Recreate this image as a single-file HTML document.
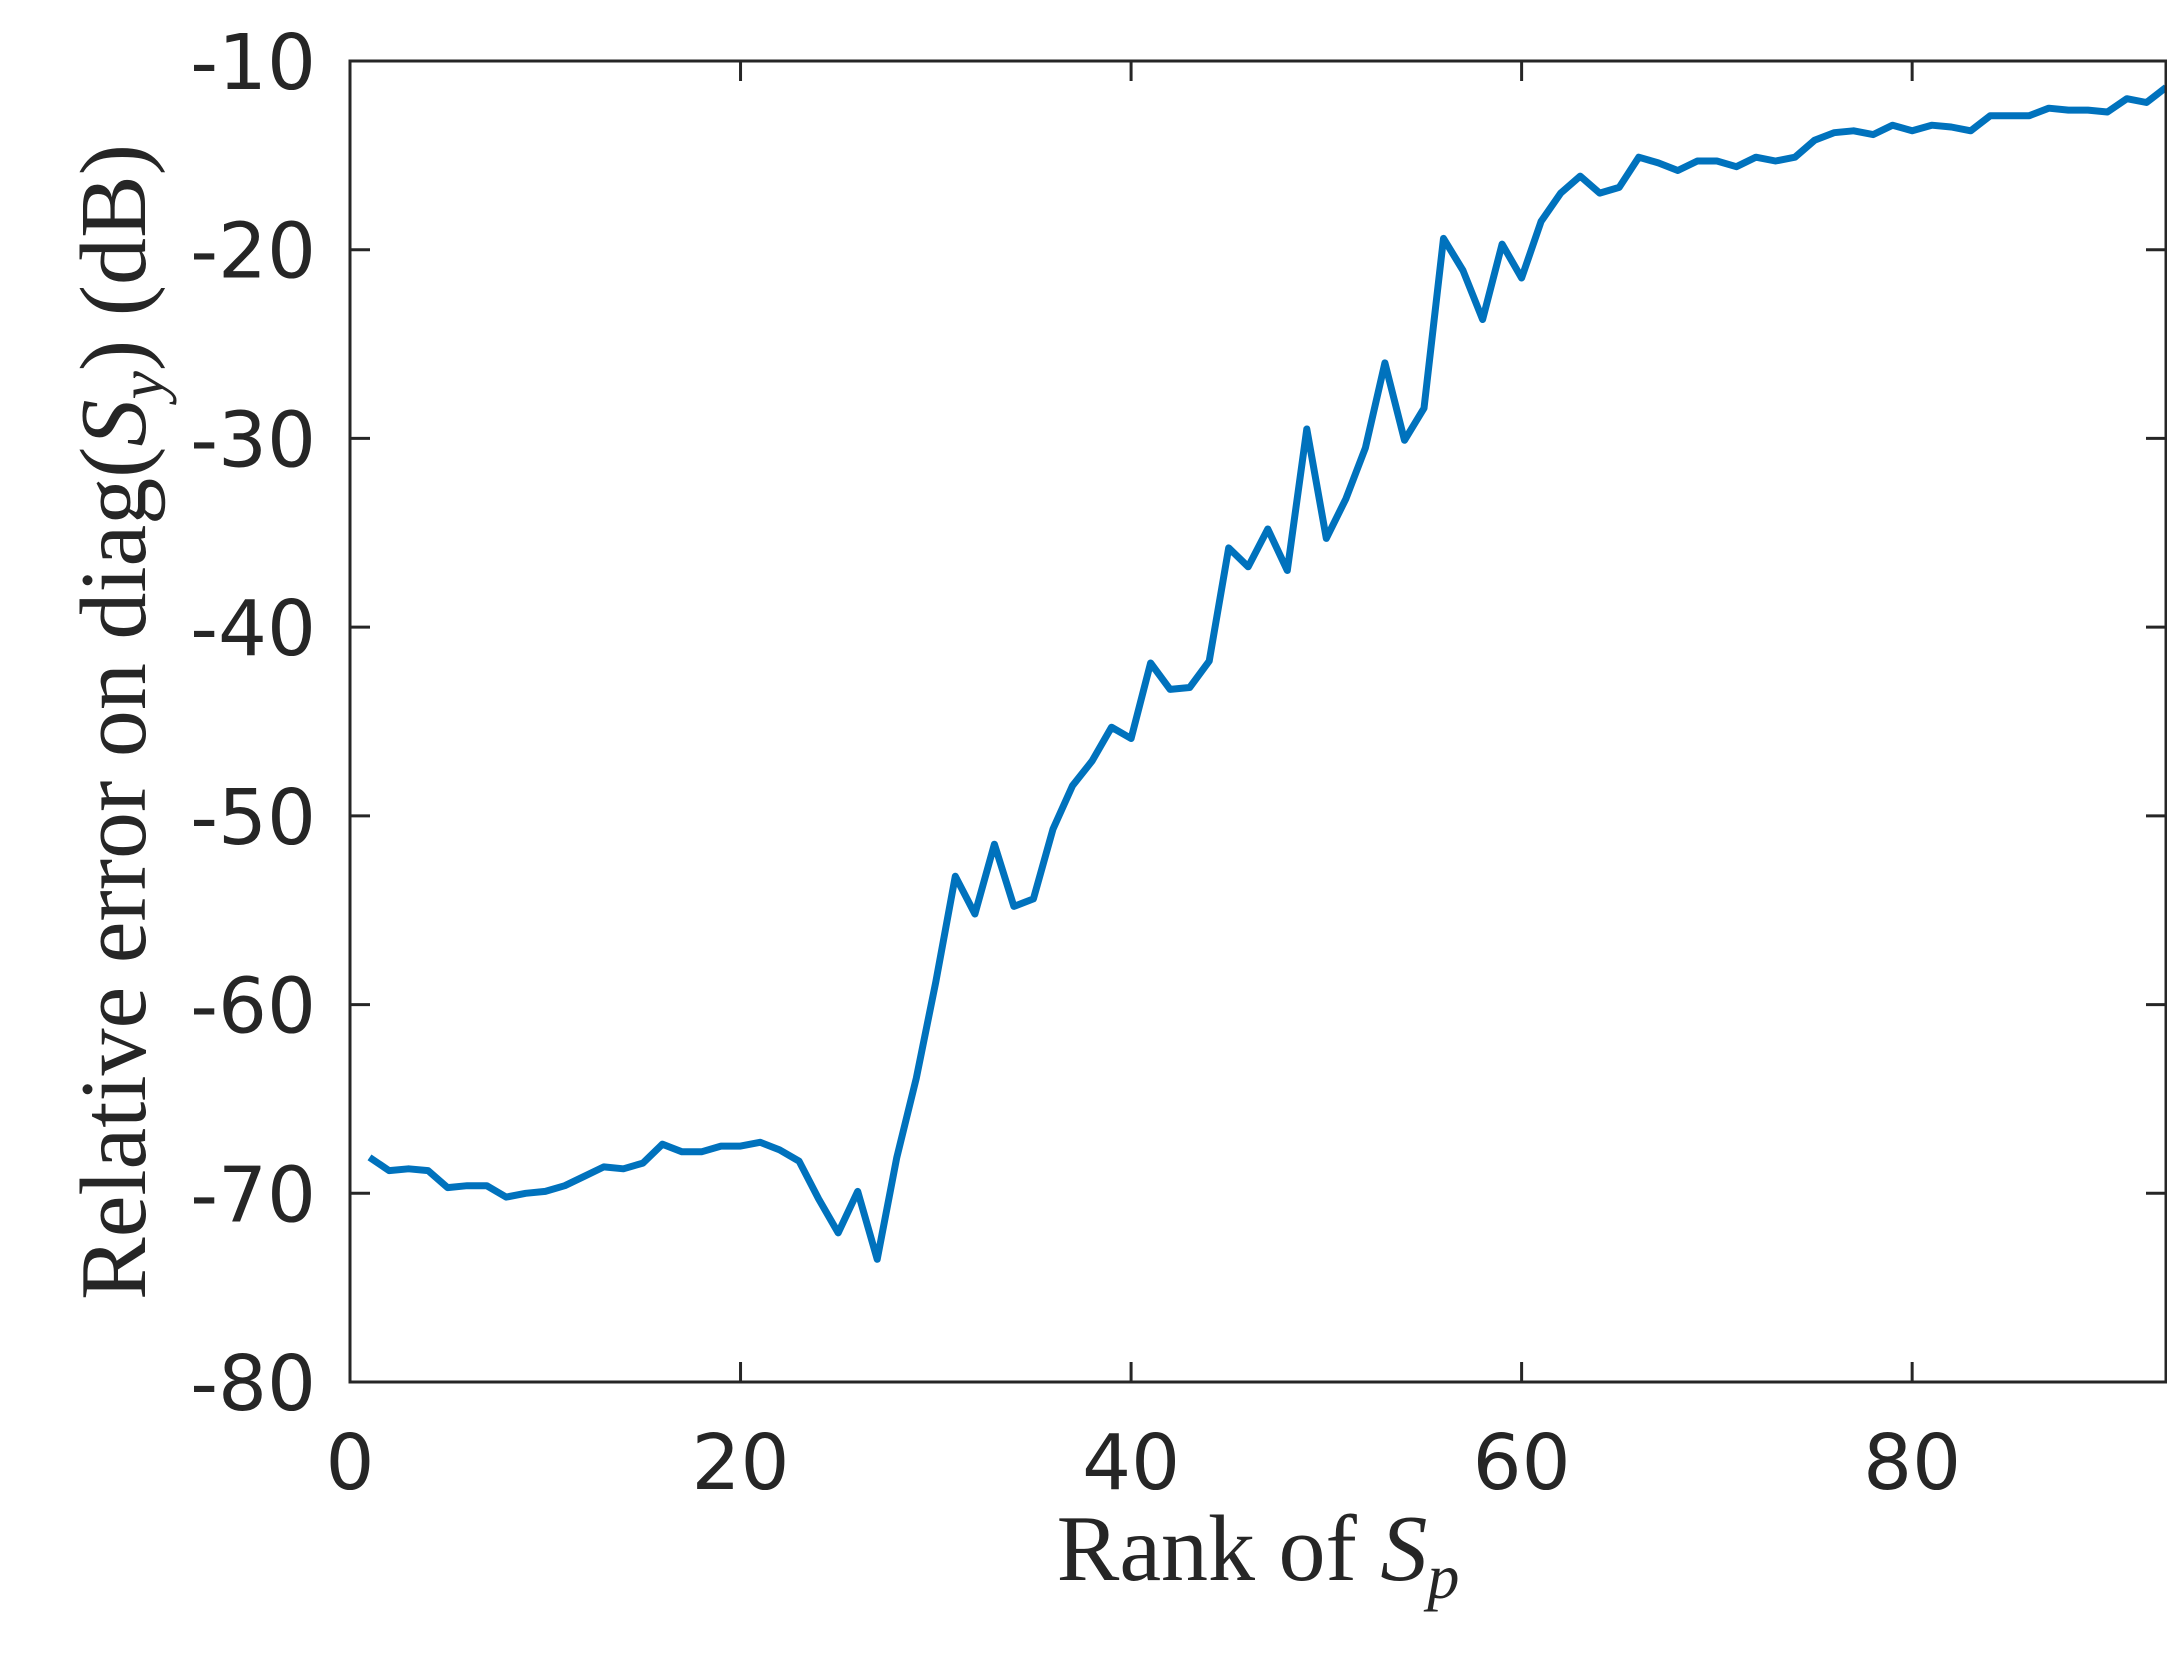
<!DOCTYPE html>
<html><head><meta charset="utf-8">
<style>
html,body{margin:0;padding:0;background:#fff;}
svg{display:block;}
.tick{font-family:"DejaVu Sans","Liberation Sans",sans-serif;font-size:77px;fill:#262626;}
.lab{font-family:"Liberation Serif","DejaVu Serif",serif;font-size:94px;fill:#262626;}
</style></head>
<body>
<svg id="chart" width="2167" height="1672" xmlns="http://www.w3.org/2000/svg">
<rect x="0" y="0" width="2167" height="1672" fill="#fff"/>
<g id="ticks"></g>
<path id="line" fill="none" stroke="#0072BD" stroke-width="7" stroke-linejoin="round"/>
<rect x="350" y="61" width="1816" height="1321" fill="none" stroke="#262626" stroke-width="3"/>
<g id="labels"></g>
<text class="lab" x="1258" y="1580" text-anchor="middle">Rank of <tspan font-style="italic">S</tspan><tspan font-style="italic" font-size="64" dy="18">p</tspan></text>
<text class="lab" transform="translate(145,722) rotate(-90)" text-anchor="middle">Relative error on diag(<tspan font-style="italic">S</tspan><tspan font-style="italic" font-size="64" dy="18">y</tspan><tspan dy="-18">) (dB)</tspan></text>
</svg>
<script>
const xTicks=[0,20,40,60,80];
const yTicks=[-10,-20,-30,-40,-50,-60,-70,-80];
const values=[-68.1,-68.8,-68.7,-68.8,-69.7,-69.6,-69.6,-70.2,-70.0,-69.9,-69.6,-69.1,-68.6,-68.7,-68.4,-67.4,-67.8,-67.8,-67.5,-67.5,-67.3,-67.7,-68.3,-70.3,-72.1,-69.9,-73.5,-68.1,-63.9,-58.8,-53.2,-55.2,-51.5,-54.8,-54.4,-50.7,-48.4,-47.1,-45.3,-45.9,-41.9,-43.3,-43.2,-41.8,-35.8,-36.8,-34.8,-37.0,-29.5,-35.3,-33.2,-30.5,-26.0,-30.1,-28.4,-19.4,-21.1,-23.7,-19.7,-21.5,-18.5,-17.0,-16.1,-17.0,-16.7,-15.1,-15.4,-15.8,-15.3,-15.3,-15.6,-15.1,-15.3,-15.1,-14.2,-13.8,-13.7,-13.9,-13.4,-13.7,-13.4,-13.5,-13.7,-12.9,-12.9,-12.9,-12.5,-12.6,-12.6,-12.7,-12.0,-12.2,-11.4];
const NS='http://www.w3.org/2000/svg';
const X0=350,X1=2166,Y0=61,Y1=1382,XMIN=0,XMAX=93,YMIN=-80,YMAX=-10;
function sx(v){return X0+(v-XMIN)/(XMAX-XMIN)*(X1-X0);}
function sy(v){return Y1-(v-YMIN)/(YMAX-YMIN)*(Y1-Y0);}
const tg=document.getElementById('ticks'),lg=document.getElementById('labels');
function mk(tag,attrs,parent){const e=document.createElementNS(NS,tag);for(const k in attrs)e.setAttribute(k,attrs[k]);parent.appendChild(e);return e;}
xTicks.forEach(v=>{
  const x=sx(v);
  const t1=mk('line',{x1:x,x2:x,y1:Y1,y2:Y1-20,stroke:'#262626','stroke-width':3},tg);
  
  
  const t2=mk('line',{x1:x,x2:x,y1:Y0,y2:Y0+20,stroke:'#262626','stroke-width':3},tg);
  
  
  const t=mk('text',{x:x,y:1489,'text-anchor':'middle',class:'tick'},lg);
  t.textContent=v;
  
  
});
yTicks.forEach(v=>{
  const y=sy(v);
  const t1=mk('line',{x1:X0,x2:X0+20,y1:y,y2:y,stroke:'#262626','stroke-width':3},tg);
  
  
  const t2=mk('line',{x1:X1,x2:X1-20,y1:y,y2:y,stroke:'#262626','stroke-width':3},tg);
  
  
  const t=mk('text',{x:316,y:y+28,'text-anchor':'end',class:'tick'},lg);
  t.textContent=v;
  
  
});
let d='';
values.forEach((v,i)=>{d+=(i?'L':'M')+sx(i+1).toFixed(1)+' '+sy(v).toFixed(1)+' ';});
document.getElementById('line').setAttribute('d',d);
</script>
</body></html>
